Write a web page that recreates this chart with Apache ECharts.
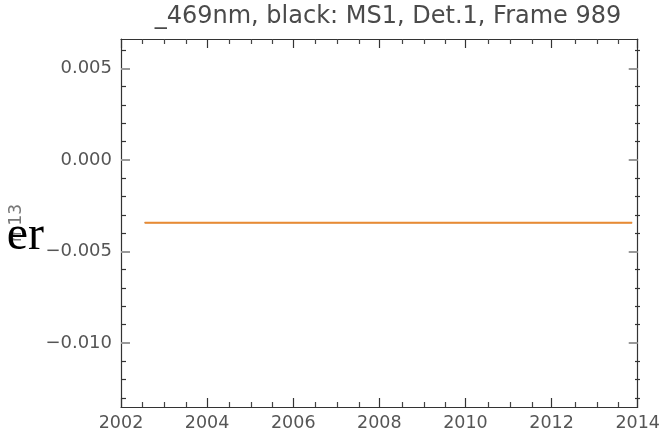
<!DOCTYPE html>
<html>
<head>
<meta charset="utf-8">
<script src="https://cdn.jsdelivr.net/npm/echarts@6/dist/echarts.min.js"></script>
<style>
  html, body { margin: 0; padding: 0; background: #fff; }
  #chart { width: 663px; height: 438px; }
</style>
</head>
<body>
<div id="chart"></div>
<script>
// Time axis (decimal years) and tick positions
const xMajorTicks = [2002, 2004, 2006, 2008, 2010, 2012, 2014];
const xMinorTicks = [2002.5, 2003, 2003.5, 2004.5, 2005, 2005.5, 2006.5, 2007, 2007.5,
                     2008.5, 2009, 2009.5, 2010.5, 2011, 2011.5, 2012.5, 2013, 2013.5];
const yMajorTicks = [-0.010, -0.005, 0.000, 0.005];
const yMinorTicks = [-0.013, -0.012, -0.011, -0.009, -0.008, -0.007, -0.006,
                     -0.004, -0.003, -0.002, -0.001, 0.001, 0.002, 0.003, 0.004, 0.006];

// m13 series sampled over the mission
const years = [2002.55, 2003.5, 2004.5, 2005.5, 2006.5, 2007.5, 2008.5,
               2009.5, 2010.5, 2011.5, 2012.5, 2013.87];
const m13Black = [-0.00343, -0.00343, -0.00343, -0.00343, -0.00343, -0.00343,
                  -0.00343, -0.00343, -0.00343, -0.00343, -0.00343, -0.00343];
const m13Orange = [-0.00343, -0.00343, -0.00343, -0.00343, -0.00343, -0.00343,
                   -0.00343, -0.00343, -0.00343, -0.00343, -0.00343, -0.00343];

const titleText = '_469nm, black: MS1, Det.1, Frame 989';
const yName = 'm13';

const FONT = '"DejaVu Sans", sans-serif';
const gridRect = { left: 121, right: 23, top: 39, bottom: 31 };
const xRange = { min: 2002, max: 2014 };
const yRange = { min: -0.0135, max: 0.0066 };

function fmtY(v) {
  const s = Math.abs(v).toFixed(3);
  return v < -1e-9 ? '\u2212' + s : s;
}

function xAxisDef(grid, pos, ticks, len, color, labels) {
  return {
    type: 'value', gridIndex: grid, position: pos, min: xRange.min, max: xRange.max,
    axisLine: { show: grid === 0, onZero: false, lineStyle: { color: '#333', width: 1.2 } },
    axisTick: { show: true, inside: true, length: len, customValues: ticks,
                lineStyle: { color: color, width: 1.2 } },
    axisLabel: labels ? { show: true, customValues: xMajorTicks, margin: 7,
                          color: '#555', fontFamily: FONT, fontSize: 17.5,
                          formatter: v => String(Math.round(v)) } : { show: false },
    splitLine: { show: false }
  };
}

function yAxisDef(grid, pos, ticks, len, color, width, labels) {
  return {
    type: 'value', gridIndex: grid, position: pos, min: yRange.min, max: yRange.max,
    name: labels ? yName : '', nameLocation: 'middle', nameGap: 96, nameRotate: 90,
    nameTextStyle: { color: '#777', fontFamily: FONT, fontSize: 17 },
    axisLine: { show: grid === 0, onZero: false, lineStyle: { color: '#333', width: 1.2 } },
    axisTick: { show: true, inside: true, length: len, customValues: ticks,
                lineStyle: { color: color, width: width } },
    axisLabel: labels ? { show: true, customValues: yMajorTicks, margin: 9,
                          color: '#555', fontFamily: FONT, fontSize: 18,
                          formatter: fmtY } : { show: false },
    splitLine: { show: false }
  };
}

const chart = echarts.init(document.getElementById('chart'), null, { renderer: 'canvas' });
chart.setOption({
  animation: false,
  backgroundColor: '#fff',
  grid: [Object.assign({}, gridRect), Object.assign({}, gridRect)],
  xAxis: [
    xAxisDef(0, 'bottom', xMajorTicks, 9, '#333', true),
    xAxisDef(0, 'top', xMajorTicks, 9, '#333', false),
    xAxisDef(1, 'bottom', xMinorTicks, 5, '#444', false),
    xAxisDef(1, 'top', xMinorTicks, 5, '#444', false)
  ],
  yAxis: [
    yAxisDef(0, 'left', yMajorTicks, 9, '#999', 2, true),
    yAxisDef(0, 'right', yMajorTicks, 9, '#999', 2, false),
    yAxisDef(1, 'left', yMinorTicks, 5, '#333', 1.2, false),
    yAxisDef(1, 'right', yMinorTicks, 5, '#333', 1.2, false)
  ],
  series: [
    {
      type: 'line', xAxisIndex: 0, yAxisIndex: 0, showSymbol: false,
      data: years.map((y, i) => [y, m13Black[i]]),
      lineStyle: { color: '#222', width: 1 }, z: 2
    },
    {
      type: 'line', xAxisIndex: 0, yAxisIndex: 0, showSymbol: false,
      data: years.map((y, i) => [y, m13Orange[i]]),
      lineStyle: { color: '#e98b33', width: 2 }, z: 3
    }
  ],
  graphic: [
    {
      type: 'text', x: 388, y: 5,
      style: { text: titleText, font: '24px ' + FONT, fill: '#4a4a4a',
               align: 'center', verticalAlign: 'top' }
    },
    {
      type: 'text', x: 44, y: 212,
      style: { text: 'er', font: '48px "Liberation Serif", "Times New Roman", serif',
               fill: '#000', align: 'right', verticalAlign: 'top' },
      z: 10
    }
  ]
});
</script>
</body>
</html>
